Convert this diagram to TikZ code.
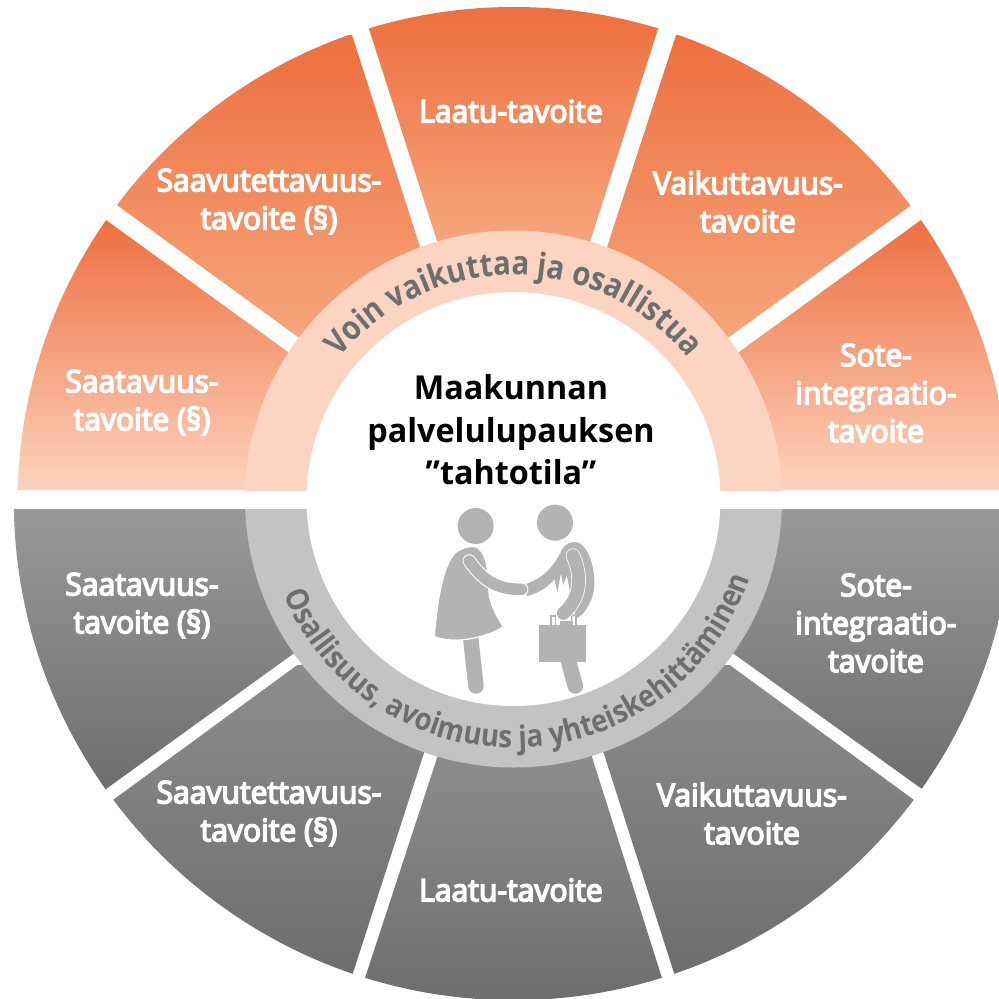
\documentclass[tikz,border=0pt]{standalone}
\usepackage{fontspec}
\usetikzlibrary{calc,decorations.text}
\setmainfont{Open Sans}
\newfontfamily\labfont[FakeBold=5,FakeStretch=0.97]{Open Sans}
\newfontfamily\headfont[FakeStretch=0.98]{Open Sans}
\newfontfamily\ringfont[FakeStretch=0.89]{Open Sans}
\definecolor{oraTop}{HTML}{EE6F3F}
\definecolor{oraMid}{HTML}{F6A67D}
\definecolor{oraLow}{HTML}{FDD3BE}
\definecolor{oraRing}{HTML}{FBD5C2}
\definecolor{grayRing}{HTML}{C3C3C3}
\definecolor{ringText}{HTML}{6D6E6E}
\definecolor{figGray}{HTML}{B3B3B3}
\tikzset{
  lab/.style={text=white,align=center,inner sep=0pt,font={\labfont\fontsize{31}{38}\selectfont}},
  headlab/.style={text=black,align=center,inner sep=0pt,font={\headfont\bfseries\fontsize{33}{42.5}\selectfont}},
  oraside/.style={top color=oraTop,bottom color=oraLow},
  oranear/.style={top color=oraTop,bottom color=oraMid},
  grayside/.style={top color=black!40,bottom color=black!57},
  graynear/.style={top color=black!45,bottom color=black!57},
  ringlabel/.style={decorate},
  figfill/.style={fill=figGray,draw=none},
  figlimb/.style={draw=figGray,line cap=round,line width=13pt},
  figedge/.style={draw=white,line cap=round,line width=15.5pt}
}
% #1 clip polygon, #2 centre, #3 radius, #4 y top, #5 y bottom, #6 style
\newcommand{\sectorshade}[6]{%
  \begin{scope}
    \clip (#2) circle[radius=#3pt];
    \clip #1 -- cycle;
    \shade[#6] (-100,-#4) rectangle (1100,-#5);
  \end{scope}}
% polygon from ring corner b1, outer corner a1, outer corner a2, ring corner b2
\newcommand{\fourpts}[4]{(513,-499) -- (#1) -- ($(#1)!1.5!(#2)$) -- ($(#4)!1.5!(#3)$) -- (#4)}
\begin{document}
\begin{tikzpicture}[x=1pt,y=1pt]
\useasboundingbox (0,-999) rectangle (999,0);
\fill[white] (0,-999) rectangle (999,0);
\coordinate (co) at (513.5,-503);
\coordinate (cg) at (513.5,-500.5);
\coordinate (cr) at (513.5,-499);
\clip (0,-999) rectangle (999,0);
% orange sectors
\sectorshade{(513,-490) -- (288,-352) -- ($(288,-352)!1.5!(106,-220)$) -- (-100,-490)}{co}{496}{220}{490}{oraside}
\sectorshade{\fourpts{298,-337}{117,-205}{352,-35}{420,-247}}{co}{496}{35}{340}{oranear}
\sectorshade{\fourpts{437,-241}{369,-29}{658,-29}{590,-242}}{co}{496}{7}{245}{oranear}
\sectorshade{\fourpts{607,-247}{676,-35}{910,-206}{729,-337}}{co}{496}{35}{340}{oranear}
\sectorshade{(513,-490) -- (739,-352) -- ($(739,-352)!1.5!(921,-220)$) -- (1100,-490)}{co}{496}{220}{490}{oraside}
% gray sectors
\sectorshade{(513,-509) -- (293,-654) -- ($(293,-654)!1.5!(106,-789)$) -- (-100,-509)}{cg}{499.7}{509}{790}{grayside}
\sectorshade{\fourpts{300,-663}{113,-800}{353,-973}{424,-753}}{cg}{499.7}{665}{975}{graynear}
\sectorshade{\fourpts{437,-758}{365,-978}{662,-978}{592,-757}}{cg}{499.7}{755}{1000}{graynear}
\sectorshade{\fourpts{604,-754}{674,-973}{914,-800}{727,-663}}{cg}{499.7}{665}{975}{graynear}
\sectorshade{(513,-509) -- (734,-654) -- ($(734,-654)!1.5!(922,-789)$) -- (1100,-509)}{cg}{499.7}{509}{790}{grayside}
% rings
\begin{scope}
  \clip (0,-490) rectangle (999,0);
  \fill[oraRing] (cr) circle[radius=268.5pt];
\end{scope}
\begin{scope}
  \clip (0,-999) rectangle (999,-509);
  \fill[grayRing] (cr) circle[radius=268.5pt];
\end{scope}
\fill[white] (cr) circle[radius=207pt];
% ring text
\path[ringlabel,decoration={text along path,text align=center,
  text={|\ringfont\bfseries\fontsize{33}{33}\selectfont\color{ringText}|Voin vaikuttaa ja osallistua}}]
  ($(cr)+(142:224pt)$) arc[start angle=142,end angle=38,radius=224pt];
\path[ringlabel,decoration={text along path,text align=center,
  text={|\ringfont\bfseries\fontsize{31}{31}\selectfont\color{ringText}|Osallisuus, avoimuus ja yhteiskehittäminen}}]
  ($(cr)+(193:249pt)$) arc[start angle=193,end angle=351,radius=249pt];
% labels
\node[lab] (t3) at (511,-111) {Laatu-tavoite};
\node[lab] (t2) at (269,-201.5) {Saavutettavuus-\\tavoite (§)};
\node[lab] (t4) at (748,-201.5) {Vaikuttavuus-\\tavoite};
\node[lab] (t1) at (142,-402.5) {Saatavuus-\\tavoite (§)};
\node[lab] (t5) at (876,-393) {Sote-\\integraatio-\\tavoite};
\node[lab] (b1) at (142,-605.5) {Saatavuus-\\tavoite (§)};
\node[lab] (b5) at (876,-623) {Sote-\\integraatio-\\tavoite};
\node[lab] (b2) at (269,-813.5) {Saavutettavuus-\\tavoite (§)};
\node[lab] (b4) at (752,-813.5) {Vaikuttavuus-\\tavoite};
\node[lab] (b3) at (511,-890) {Laatu-tavoite};
\node[headlab] (title) at (511,-430) {Maakunnan\\palvelulupauksen\\”tahtotila”};
% two figures, in a 3x frame
\begin{scope}[shift={(400,-490)},x=0.33333pt,y=-0.33333pt]
  % legs
  \draw[figGray,line cap=round,line width=15.5pt] (212,445) -- (228,588);
  \draw[figGray,line cap=round,line width=15.5pt] (503,505) -- (526,588);
  % heads
  \fill[figGray] (227,108) circle[radius=18pt];
  \fill[figGray] (465,98) circle[radius=18pt];
  % dress
  \path[figfill,draw=white,line width=1.2pt] (225,170) .. controls (245,175) and (258,205) .. (262,240) -- (268,320)
    .. controls (275,350) and (295,390) .. (310,410) .. controls (265,440) and (170,465) .. (103,440)
    .. controls (110,350) and (125,240) .. (160,195) .. controls (175,178) and (200,168) .. (225,170) -- cycle;
  % man body
  \path[figfill] (378,282) .. controls (430,265) and (465,225) .. (485,180)
    .. controls (495,160) and (520,150) .. (540,160) .. controls (570,180) and (585,240) .. (583,290)
    .. controls (580,325) and (565,350) .. (548,372) -- (530,385) -- (515,330) -- (500,255) -- (490,285)
    -- (483,250) -- (472,305) -- (463,268) .. controls (450,285) and (420,310) .. (380,318) -- cycle;
  % briefcase
  \draw[figGray,line width=1.6pt] (453,405) -- (453,378) -- (466,378) -- (466,405);
  \draw[figGray,line width=1.6pt] (515,405) -- (515,378) -- (528,372) -- (528,405);
  \fill[figGray] (480,393) rectangle (520,405);
  \fill[figGray] (417,405) rectangle (557,515);
  % man arm
  \draw[figedge,line width=14.5pt] (519,197) .. controls (543,250) and (548,320) .. (490,370);
  \draw[figlimb] (519,197) .. controls (543,250) and (548,320) .. (490,370);
  % woman arm
  \draw[figedge,line width=13.5pt] (208,213) .. controls (255,280) and (300,298) .. (365,298);
  \draw[figlimb,line width=11.5pt] (208,213) .. controls (255,280) and (300,298) .. (365,298);
\end{scope}
\end{tikzpicture}
\end{document}
